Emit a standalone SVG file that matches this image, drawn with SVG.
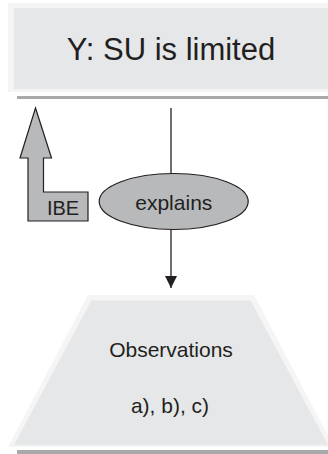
<svg xmlns="http://www.w3.org/2000/svg" width="328" height="454" viewBox="0 0 328 454">
<defs>
<style>
.txt{font-family:"Liberation Sans",Arial,sans-serif;fill:#231f20;text-anchor:middle}
.halo{fill:#f5f5f6}
.fill{fill:#e6e7e8}
.shadow{fill:#a7a9ab}
.line{stroke:#231f20;stroke-width:1.3;fill:none}
</style>
<marker id="ah" markerWidth="12" markerHeight="12" refX="12" refY="6" orient="auto" markerUnits="userSpaceOnUse">
<path d="M0,0 L12,6 L0,12 z" fill="#231f20"/>
</marker>
</defs>
<rect width="328" height="454" fill="#ffffff"/>
<g id="hypothesis">
<rect class="halo" x="8" y="3" width="320" height="89"/>
<rect class="fill" x="14" y="8" width="314" height="81"/>
<rect class="shadow" x="17" y="96" width="311" height="3"/>
<text class="txt" x="171" y="60" font-size="31">Y: SU is limited</text>
</g>
<g id="ibe">
<polygon points="35.5,108 51.5,158 43.5,158 43.5,192 88,192 88,221 28,221 28,158 20,158" fill="#b8b9bb" stroke="#231f20" stroke-width="1.2"/>
<text class="txt" x="63" y="215" font-size="20">IBE</text>
</g>
<g id="connectors">
<line class="line" x1="171" y1="108" x2="171" y2="174"/>
<line class="line" x1="171" y1="229" x2="171" y2="288" marker-end="url(#ah)"/>
</g>
<g id="explains">
<ellipse cx="173.7" cy="201.5" rx="74.5" ry="28" fill="#b8b9bb" stroke="#231f20" stroke-width="1.2"/>
<text class="txt" x="173.8" y="210" font-size="21">explains</text>
</g>
<g id="observations">
<polygon class="halo" points="88,295 254,295 334,447 8,447"/>
<polygon class="fill" points="91.5,300.5 250.5,300.5 328,445 14,445"/>
<rect class="shadow" x="17" y="450" width="311" height="4"/>
<text class="txt" x="171" y="357" font-size="21">Observations</text>
<text class="txt" x="170" y="413" font-size="21">a), b), c)</text>
</g>
</svg>
